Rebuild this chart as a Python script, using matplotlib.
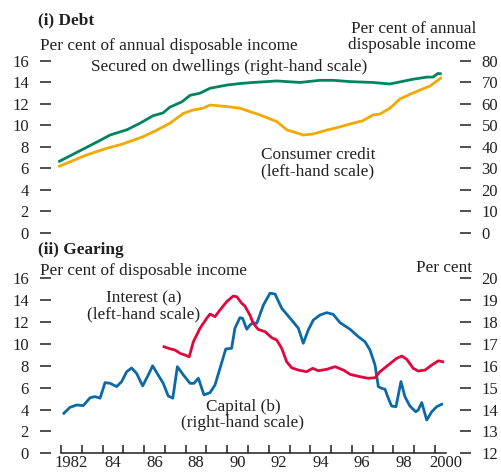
import numpy as np
import matplotlib.pyplot as plt

plt.rcParams['font.family'] = ['Liberation Serif', 'DejaVu Serif']

# (i) Debt
sec_years = [1981.87, 1983.88, 1984.36, 1985.18, 1985.80, 1986.43, 1986.91, 1987.24,
             1987.82, 1988.21, 1988.69, 1989.17, 1989.99, 1990.61, 1991.24, 1992.39,
             1993.50, 1994.46, 1995.09, 1995.91, 1997.01, 1997.83, 1998.94, 1999.61,
             1999.90, 2000.14, 2000.32]
secured = [33.0, 43.0, 45.5, 48.0, 51.0, 54.5, 55.8, 58.5, 61.0, 64.0, 65.0, 67.3,
           68.8, 69.5, 70.0, 70.7, 70.0, 71.0, 71.0, 70.4, 70.0, 69.3, 71.5, 72.5,
           72.5, 74.2, 74.0]

cc_years = [1981.87, 1983.24, 1984.21, 1984.98, 1985.95, 1986.62, 1987.24, 1987.87,
            1988.35, 1988.83, 1989.17, 1989.99, 1990.61, 1991.58, 1992.39, 1992.88,
            1993.16, 1993.65, 1994.13, 1994.80, 1995.28, 1996.05, 1996.53, 1997.01,
            1997.35, 1997.83, 1998.31, 1998.80, 1999.28, 1999.76, 2000.32]
consumer = [6.15, 7.25, 7.87, 8.27, 8.95, 9.57, 10.2, 11.1, 11.43, 11.6, 11.9, 11.75,
            11.6, 10.97, 10.35, 9.57, 9.41, 9.1, 9.2, 9.57, 9.79, 10.2, 10.44, 10.97,
            11.06, 11.6, 12.46, 12.9, 13.3, 13.67, 14.48]

# (ii) Gearing
int_years = [1986.96, 1987.24, 1987.49, 1987.73, 1987.97, 1988.17, 1988.37, 1988.69,
             1989.01, 1989.17, 1989.41, 1989.65, 1989.97, 1990.29, 1990.46, 1990.70,
             1990.85, 1991.10, 1991.25, 1991.49, 1991.82, 1992.14, 1992.38, 1992.62,
             1992.86, 1993.10, 1993.42, 1993.82, 1994.11, 1994.38, 1994.79, 1995.19,
             1995.59, 1995.91, 1996.39, 1996.79, 1997.11, 1997.35, 1997.75, 1998.15,
             1998.40, 1998.64, 1998.95, 1999.19, 1999.52, 1999.84, 2000.16, 2000.37]
interest = [9.74, 9.56, 9.44, 9.14, 8.98, 8.83, 10.2, 11.43, 12.34, 12.73, 12.49, 13.1,
            13.86, 14.38, 14.31, 13.71, 13.46, 12.6, 11.88, 11.33, 11.12, 10.57, 10.36,
            9.6, 8.37, 7.82, 7.61, 7.46, 7.77, 7.55, 7.68, 7.92, 7.61, 7.22, 7.0, 6.86,
            6.91, 7.46, 8.07, 8.68, 8.89, 8.59, 7.77, 7.52, 7.61, 8.07, 8.46, 8.37]

cap_years = [1982.14, 1982.43, 1982.76, 1983.07, 1983.40, 1983.64, 1983.88, 1984.12,
             1984.36, 1984.68, 1984.92, 1985.16, 1985.40, 1985.64, 1985.93, 1986.20,
             1986.41, 1986.63, 1986.92, 1987.16, 1987.38, 1987.60, 1987.89, 1988.21,
             1988.40, 1988.61, 1988.88, 1989.17, 1989.41, 1989.70, 1989.93, 1990.21,
             1990.37, 1990.61, 1990.74, 1990.94, 1991.10, 1991.25, 1991.42, 1991.74,
             1992.06, 1992.30, 1992.62, 1993.10, 1993.42, 1993.66, 1993.90, 1994.14,
             1994.46, 1994.79, 1995.10, 1995.43, 1995.91, 1996.31, 1996.63, 1996.87,
             1997.11, 1997.27, 1997.43, 1997.59, 1997.75, 1997.91, 1998.12, 1998.36,
             1998.55, 1998.79, 1999.07, 1999.19, 1999.36, 1999.60, 1999.84, 2000.08,
             2000.32]
capital = [13.83, 14.10, 14.21, 14.18, 14.54, 14.59, 14.52, 15.23, 15.20, 15.05, 15.28,
           15.73, 15.90, 15.65, 15.08, 15.58, 16.00, 15.65, 15.20, 14.62, 14.52, 15.96,
           15.58, 15.20, 15.20, 15.43, 14.67, 14.77, 15.12, 16.04, 16.77, 16.80, 17.72,
           18.20, 18.17, 17.67, 17.87, 17.97, 17.94, 18.78, 19.32, 19.28, 18.63, 18.09,
           17.72, 17.03, 17.64, 18.09, 18.32, 18.43, 18.35, 17.97, 17.67, 17.33, 17.10,
           16.72, 16.04, 15.05, 14.97, 14.93, 14.52, 14.16, 14.13, 15.28, 14.59, 14.16,
           13.90, 13.98, 14.32, 13.52, 13.90, 14.13, 14.24]

year_ticks = list(range(1982, 2001))
year_labels = ['1982', '84', '86', '88', '90', '92', '94', '96', '98', '2000']

GREEN = '#00845f'
GOLD = '#f2a900'
RED = '#e2063c'
BLUE = '#0a6aa8'
INK = '#231f20'

W, H = 502, 473
fig = plt.figure(figsize=(W / 100, H / 100), dpi=100)

xlim = (1981.519, 2001.201)
fs = 12.4
tfs = 12


def style(ax, twin):
    for s in ax.spines.values():
        s.set_visible(False)
    for s in twin.spines.values():
        s.set_visible(False)
    ax.set_xlim(*xlim)
    ax.tick_params(axis='y', direction='out', length=8, width=1.1, pad=8,
                   labelsize=tfs, colors=INK)
    twin.tick_params(axis='y', direction='out', length=8, width=1.1, pad=7.5,
                     labelsize=tfs, colors=INK)


def px(x, y):
    return x / W, 1 - y / H


# top panel
ax1 = fig.add_axes([51 / W, (H - 232.7) / H, 409 / W, 171.7 / H])
ax1r = ax1.twinx()
style(ax1, ax1r)
ax1.set_ylim(0, 16)
ax1r.set_ylim(0, 80)
ax1.set_yticks(range(0, 17, 2))
ax1r.set_yticks(range(0, 81, 10))
ax1.set_xticks([])
ax1r.plot(sec_years, secured, color=GREEN, lw=2.0, solid_capstyle='butt')
ax1.plot(cc_years, consumer, color=GOLD, lw=2.0, solid_capstyle='butt')
ax1.set_zorder(ax1r.get_zorder() + 1)
ax1.patch.set_visible(False)

# bottom panel
ax2 = fig.add_axes([51 / W, (H - 453.3) / H, 409 / W, 175 / H])
ax2r = ax2.twinx()
style(ax2, ax2r)
ax2.set_ylim(0, 16)
ax2r.set_ylim(12, 20)
ax2.set_yticks(range(0, 17, 2))
ax2r.set_yticks(range(12, 21, 1))
ax2r.plot(cap_years, capital, color=BLUE, lw=2.0)
ax2.plot(int_years, interest, color=RED, lw=2.0)
ax2.set_zorder(ax2r.get_zorder() + 1)
ax2.patch.set_visible(False)

ax2.spines['bottom'].set_visible(True)
ax2.spines['bottom'].set_bounds(1982, 2000.53)
ax2.spines['bottom'].set_color(INK)
ax2.spines['bottom'].set_linewidth(1.1)
ax2.set_xticks(year_ticks)
ax2.set_xticklabels([])
ax2.set_xticks([y + 0.5 for y in range(1982, 2001, 2)], minor=True)
ax2.set_xticklabels(year_labels, minor=True)
ax2.tick_params(axis='x', which='major', direction='in', length=6, width=1.1, colors=INK)
ax2.tick_params(axis='x', which='minor', length=0, pad=1.5, labelsize=tfs, colors=INK)

fig.text(*px(38, 20), '(i) Debt', fontsize=fs, fontweight='bold', va='center', color=INK)
fig.text(*px(40, 46), 'Per cent of annual disposable income', fontsize=fs, va='center', color=INK)
fig.text(*px(476, 37), 'Per cent of annual\ndisposable income', fontsize=fs, va='center',
         ha='right', ma='right', linespacing=1.0, color=INK)
fig.text(*px(229, 67), 'Secured on dwellings (right-hand scale)', fontsize=fs,
         va='center', ha='center', color=INK)
fig.text(*px(318, 163), 'Consumer credit\n(left-hand scale)', fontsize=fs, va='center',
         ha='center', linespacing=1.0, color=INK)

fig.text(*px(38, 250), '(ii) Gearing', fontsize=fs, fontweight='bold', va='center', color=INK)
fig.text(*px(40, 271), 'Per cent of disposable income', fontsize=fs, va='center', color=INK)
fig.text(*px(472, 268), 'Per cent', fontsize=fs, va='center', ha='right', color=INK)
fig.text(*px(144, 306), 'Interest (a)\n(left-hand scale)', fontsize=fs, va='center',
         ha='center', linespacing=1.0, color=INK)
fig.text(*px(243, 415), 'Capital (b)\n(right-hand scale)', fontsize=fs, va='center',
         ha='center', linespacing=1.0, color=INK)

fig.savefig('out.png', dpi=100)
